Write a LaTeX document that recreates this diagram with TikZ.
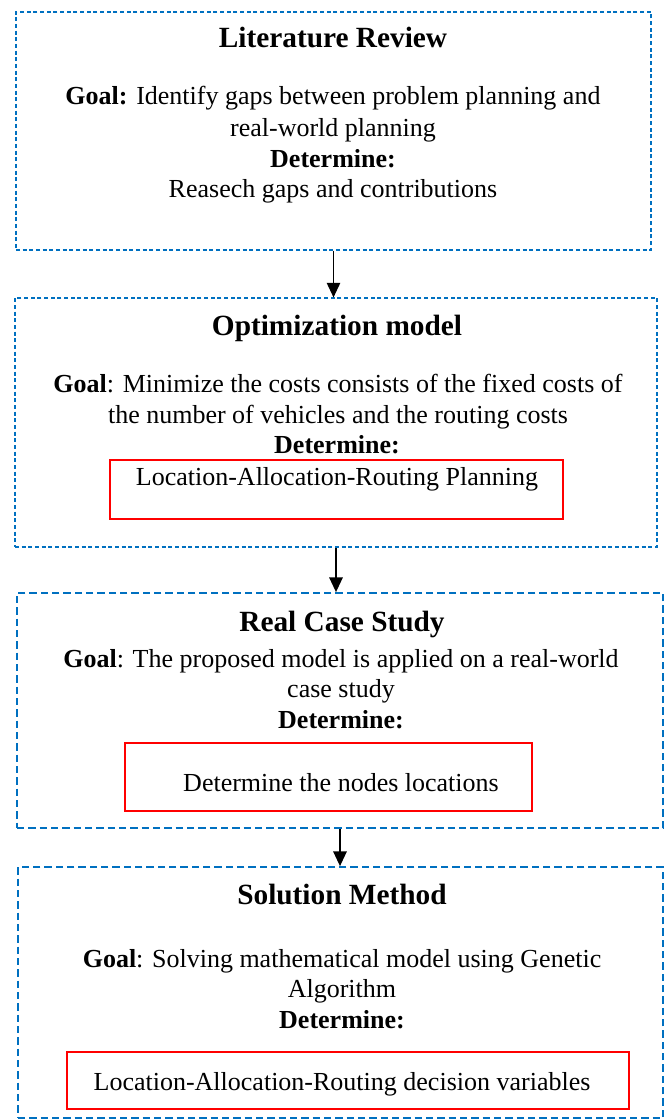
\documentclass[tikz,border=0pt]{standalone}
\usepackage{fontspec}
\setmainfont{Liberation Serif}
\usepackage{tikz}
\usetikzlibrary{arrows.meta,fit}
\usepackage{xcolor}
\definecolor{stageblue}{RGB}{0,112,192}
\newcommand{\bodyfont}{\fontsize{19.5}{23}\selectfont}
\newcommand{\titlefont}{\fontsize{22}{26}\selectfont\bfseries}

\begin{document}
\begin{tikzpicture}[x=0.75pt,y=-0.75pt,>={Triangle[length=11pt,width=10pt]},
  thinbox/.style={draw=stageblue,line width=0.8pt,dash pattern=on 3pt off 2pt,inner sep=0pt},
  thickbox/.style={draw=stageblue,line width=1.3pt,dash pattern=on 5.5pt off 3pt,inner sep=0pt},
  redbox/.style={draw=red,line width=1pt,inner sep=0pt},
  ttl/.style={anchor=base,inner sep=0pt,font=\titlefont},
  txt/.style={anchor=base,inner sep=0pt,font=\bodyfont},
  flow/.style={->,line width=1.3pt}]
\useasboundingbox (0,0) rectangle (665,1120);
% stage boxes
\node[thinbox,fit={(16,12) (651,250)}] (lit) {};
\node[thinbox,fit={(15,298) (657,547)}] (opt) {};
\node[thickbox,fit={(17,593) (663,828)}] (case) {};
\node[thickbox,fit={(18,867) (663,1118)}] (sol) {};
% literature review
\node[ttl] (lit-t) at (333,48) {Literature Review};
\node[txt] (lit-g1) at (333,105) {\textbf{Goal:} Identify gaps between problem planning and};
\node[txt] (lit-g2) at (333,137) {real-world planning};
\node[txt] (lit-d) at (333,167) {\textbf{Determine:}};
\node[txt] (lit-r) at (333,197) {Reasech gaps and contributions};
% optimization model
\node[ttl] (opt-t) at (337,335) {Optimization model};
\node[txt] (opt-g1) at (338,392) {\textbf{Goal}: Minimize the costs consists of the fixed costs of};
\node[txt] (opt-g2) at (338,423) {the number of vehicles and the routing costs};
\node[txt] (opt-d) at (337,453) {\textbf{Determine:}};
\node[redbox,fit={(110,460) (563,519)}] (opt-box) {};
\node[txt] (opt-r) at (337,485) {Location-Allocation-Routing Planning};
% real case study
\node[ttl] (case-t) at (342,631) {Real Case Study};
\node[txt] (case-g1) at (341,667) {\textbf{Goal}: The proposed model is applied on a real-world};
\node[txt] (case-g2) at (341,697) {case study};
\node[txt] (case-d) at (341,728) {\textbf{Determine:}};
\node[redbox,fit={(125,743) (532,811)}] (case-box) {};
\node[txt] (case-r) at (341,791) {Determine the nodes locations};
% solution method
\node[ttl] (sol-t) at (342,904) {Solution Method};
\node[txt] (sol-g1) at (342,967) {\textbf{Goal}: Solving mathematical model using Genetic};
\node[txt] (sol-g2) at (342,997) {Algorithm};
\node[txt] (sol-d) at (342,1028) {\textbf{Determine:}};
\node[redbox,fit={(67,1052) (629,1109)}] (sol-box) {};
\node[txt] (sol-r) at (342,1090) {Location-Allocation-Routing decision variables};
% arrows
\draw[flow] (lit.south) -- (lit.south |- opt.north);
\draw[flow] (opt.south) -- (opt.south |- case.north);
\draw[flow] (case.south) -- (case.south |- sol.north);
\end{tikzpicture}
\end{document}
